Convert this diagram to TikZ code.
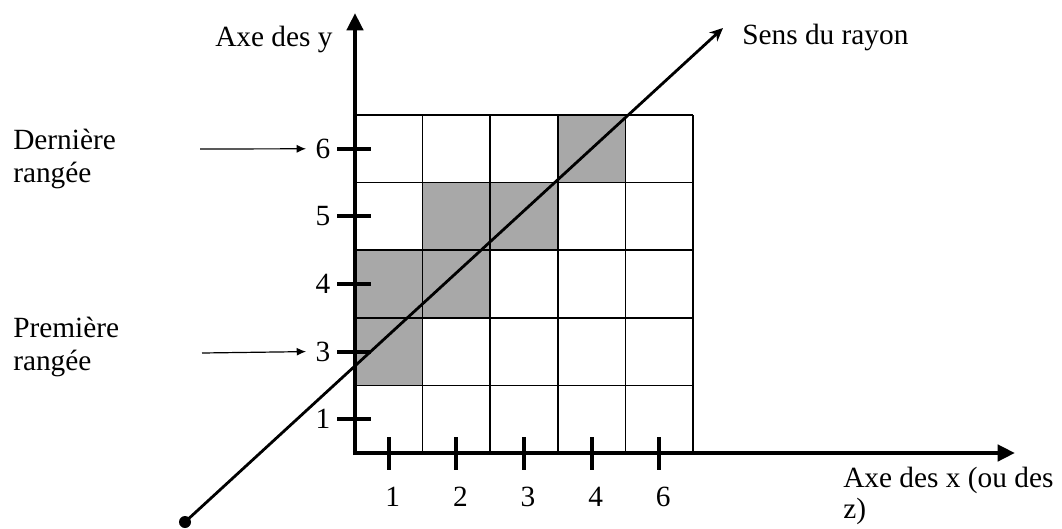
\documentclass[tikz,border=0pt]{standalone}
\usepackage{fontspec}
\setmainfont{Liberation Serif}
\usetikzlibrary{arrows.meta}
\begin{document}
\begin{tikzpicture}[x=0.75pt,y=-0.75pt,
  txt/.style={font=\fontsize{22}{25}\selectfont, inner sep=0pt, anchor=base west},
  num/.style={font=\fontsize{22}{25}\selectfont, inner sep=0pt},
  cellfill/.style={fill=black!34},
  gridline/.style={line width=1.3pt},
  axisline/.style={line width=3.2pt, -{Triangle[length=13pt,width=12pt]}},
  tickline/.style={line width=3pt},
  rayline/.style={line width=2.1pt, -{Stealth[length=10pt,width=9pt]}},
  pointer/.style={line width=0.9pt, -{Latex[length=7pt,width=6pt]}}
]
\useasboundingbox (0,0) rectangle (1062,528);
\def\cw{67.6}
% shaded cells
\foreach \i/\j in {0/2,0/3,1/1,1/2,2/1,3/0}{
  \fill[cellfill] ({355+\i*\cw},{115+\j*\cw}) rectangle ({355+(\i+1)*\cw},{115+(\j+1)*\cw});
}
% grid
\foreach \k in {0,...,5}{
  \draw[gridline] ({355+\k*\cw},115) -- ({355+\k*\cw},453);
  \draw[gridline] (355,{115+\k*\cw}) -- (693,{115+\k*\cw});
}
% ray
\coordinate (raystart) at (185,522);
\coordinate (raytip) at (723,28);
\draw[rayline] (raystart) -- (raytip);
\fill (raystart) circle (6);
% axes
\coordinate (O) at (355,453);
\coordinate (ytip) at (355,13);
\coordinate (xtip) at (1015,453);
\draw[axisline] ([yshift=-1.6pt]O) -- (ytip);
\draw[axisline] ([xshift=-1.6pt]O) -- (xtip);
% y ticks and labels
\foreach \lab/\j in {6/0,5/1,4/2,3/3,1/4}{
  \draw[tickline] (337,{115+(\j+0.5)*\cw}) -- (371,{115+(\j+0.5)*\cw});
  \node[num] (ylab\lab) at (323,{115+(\j+0.5)*\cw}) {\lab};
}
% x ticks and labels
\foreach \lab/\i in {1/0,2/1,3/2,4/3,6/4}{
  \draw[tickline] ({355+(\i+0.5)*\cw},437) -- ({355+(\i+0.5)*\cw},470);
  \node[num] (xlab\lab) at ({355+(\i+0.5)*\cw+4},497) {\lab};
}
% texts
\node[txt] (yaxis) at (215,47) {Axe des y};
\node[txt] (sens) at (742,45) {Sens du rayon};
\node[txt] (dern1) at (13,149) {Dernière};
\node[txt] (dern2) at (13,182) {rangée};
\node[txt] (prem1) at (13,337) {Première};
\node[txt] (prem2) at (13,370) {rangée};
\node[txt] (xaxis1) at (843,487) {Axe des x (ou des};
\node[txt] (xaxis2) at (843,518) {z)};
% pointers
\coordinate (p6s) at (200,149);
\coordinate (p3s) at (202,353);
\draw[pointer] (p6s) -- ([xshift=-7pt]ylab6.west);
\draw[pointer] (p3s) -- ([xshift=-7pt]ylab3.west);
\end{tikzpicture}
\end{document}
